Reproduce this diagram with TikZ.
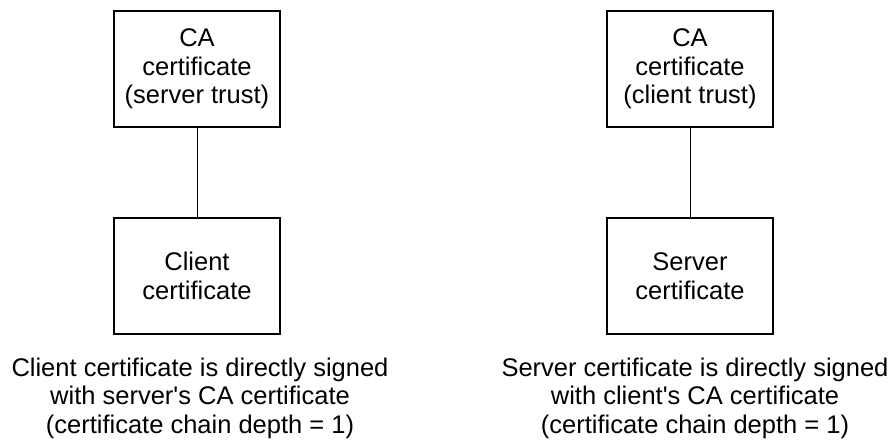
\documentclass[tikz,border=0pt]{standalone}
\usepackage{fontspec}
\setmainfont{Liberation Sans}
\begin{document}
\begin{tikzpicture}[x=0.5pt,y=-0.5pt,
  certbox/.style={draw,line width=1pt,minimum width=83pt,minimum height=58pt,align=center,inner sep=0pt},
  caption/.style={align=center,inner sep=0pt}]
  \useasboundingbox (0,0) rectangle (894,439);
  \tikzset{every node/.style={font=\fontsize{12.75}{14.25}\selectfont}}
  % client side
  \node [certbox] (cas) at (197,69) {CA\\certificate\\(server trust)};
  \node [certbox] (cli) at (197,276) {Client\\certificate};
  \draw [line width=0.5pt] (cas) -- (cli);
  \node [caption] (clitext) at (200,398) {Client certificate is directly signed\\with server\textquotesingle s CA certificate\\(certificate chain depth = 1)};
  % server side
  \node [certbox] (cac) at (690,69) {CA\\certificate\\(client trust)};
  \node [certbox] (srv) at (690,276) {Server\\certificate};
  \draw [line width=0.5pt] (cac) -- (srv);
  \node [caption] (srvtext) at (695,398) {Server certificate is directly signed\\with client\textquotesingle s CA certificate\\(certificate chain depth = 1)};
\end{tikzpicture}
\end{document}
